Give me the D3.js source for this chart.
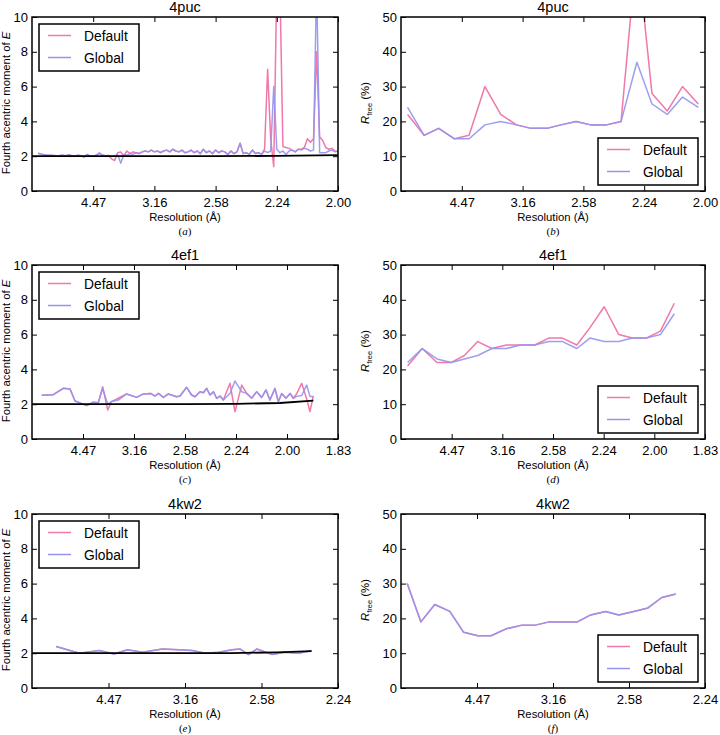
<!DOCTYPE html>
<html><head><meta charset="utf-8">
<script src="https://cdn.jsdelivr.net/npm/d3@7"></script>
<style>body{margin:0;background:#fff}</style>
</head><body><svg id="c" width="720" height="735"></svg>
<script>
// ---------- DATA (x is 1/d^2, in 1/Å^2) ----------
const seriesNames = ["Default", "Global"];

const tickValsA = [0.05, 0.1, 0.15, 0.2, 0.25];
const tickLabsA = ["4.47", "3.16", "2.58", "2.24", "2.00"];
const tickValsC = [0.05, 0.1, 0.15, 0.2, 0.25, 0.3];
const tickLabsC = ["4.47", "3.16", "2.58", "2.24", "2.00", "1.83"];
const tickValsE = [0.05, 0.1, 0.15, 0.2];
const tickLabsE = ["4.47", "3.16", "2.58", "2.24"];
const yTicksMoment = [0, 2, 4, 6, 8, 10];
const yTicksRfree = [0, 10, 20, 30, 40, 50];

// Panel (a) 4puc fourth moment
const sA = [0.005,0.0075,0.01,0.0125,0.015,0.0175,0.02,0.0225,0.025,0.0275,
0.03,0.0325,0.035,0.0375,0.04,0.0425,0.045,0.0475,0.05,0.0525,
0.055,0.0575,0.06,0.0625,0.065,0.0675,0.07,0.0725,0.075,0.0775,
0.08,0.0825,0.085,0.0875,0.09,0.0925,0.095,0.0975,0.1,0.1025,
0.105,0.1075,0.11,0.1125,0.115,0.1175,0.12,0.1225,0.125,0.1275,
0.13,0.1325,0.135,0.1375,0.14,0.1425,0.145,0.1475,0.15,0.1525,
0.155,0.1575,0.16,0.1625,0.165,0.1675,0.17,0.1725,0.175,0.1775,
0.18,0.1825,0.185,0.1875,0.19,0.1925,0.195,0.1975,0.2,0.2025,
0.205,0.2075,0.21,0.2125,0.215,0.2175,0.22,0.2225,0.225,0.2275,
0.23,0.2325,0.235,0.2375,0.24,0.2425,0.245,0.2475,0.25];
const globalA = [2.17,2.12,2.08,2.06,2.05,2.04,2.03,2.04,2.06,2.02,
2.08,2.03,2.0,2.05,2.03,1.95,2.1,2.0,2.0,2.05,
2.18,2.05,2.02,2.04,2.0,2.02,2.1,1.6,2.1,2.05,
2.15,2.1,2.2,2.15,2.25,2.3,2.25,2.35,2.25,2.3,
2.2,2.3,2.35,2.25,2.4,2.3,2.25,2.35,2.2,2.25,
2.35,2.2,2.3,2.15,2.4,2.2,2.3,2.15,2.35,2.2,
2.3,2.25,2.1,2.3,2.15,2.25,2.75,2.15,2.2,2.1,
2.35,2.15,2.2,2.1,2.3,2.2,2.3,6.0,2.4,2.2,
2.3,2.1,2.3,2.35,2.25,2.4,2.35,2.45,2.4,2.3,
2.35,12,2.2,2.2,2.2,2.3,2.35,2.25,2.3];
const defaultA = [2.17,2.12,2.08,2.06,2.05,2.04,2.03,2.04,2.06,2.02,
2.08,2.03,2.0,2.05,2.03,1.95,2.1,2.0,2.0,2.05,
2.18,2.05,2.02,2.04,1.85,1.75,2.2,2.25,2.0,2.3,
2.15,2.25,2.2,2.15,2.25,2.3,2.25,2.35,2.25,2.3,
2.2,2.3,2.35,2.25,2.4,2.3,2.25,2.35,2.2,2.25,
2.35,2.2,2.3,2.15,2.4,2.2,2.3,2.15,2.35,2.2,
2.3,2.25,2.1,2.3,2.15,2.25,2.75,2.15,2.2,2.1,
2.35,2.15,2.2,2.1,2.4,7.0,3.0,1.4,12,12,
2.55,2.5,2.45,2.35,2.25,2.4,2.4,2.5,3.0,2.8,
3.0,8.0,3.1,2.9,2.5,2.4,2.45,2.3,2.25];
const sRefA = [0, 0.1, 0.15, 0.2, 0.25];
const refA = [2.0, 2.0, 2.0, 2.02, 2.06];

// Panel (b) 4puc Rfree
const sB = [0.0054,0.019,0.031,0.044,0.056,0.069,0.082,0.095,0.107,0.12,
0.1315,0.144,0.156,0.169,0.181,0.194,0.2064,0.219,0.2315,0.2445];
const defaultB = [22,16,18,15,16,30,22,19,18,18,19,20,19,19,20,70,28,23,30,25];
const globalB = [24,16,18,15,15,19,20,19,18,18,19,20,19,19,20,37,25,22,27,24];

// Panel (c) 4ef1 fourth moment
const sC = [0.0095,0.0209,0.0307,0.0373,0.0422,0.0536,0.0601,0.065,0.0693,0.0742,
0.078,0.0846,0.0928,0.1026,0.1092,0.1163,0.1206,0.1239,0.1288,0.1337,
0.1418,0.1451,0.1516,0.1565,0.1598,0.1647,0.168,0.1712,0.1745,0.1778,
0.181,0.1843,0.1876,0.1941,0.199,0.2056,0.2105,0.2154,0.2203,0.2252,
0.2294,0.2333,0.2382,0.2415,0.2448,0.249,0.253,0.2562,0.2595,0.2644,
0.2693,0.2725,0.2758];
const globalC = [2.51,2.55,2.91,2.87,2.18,1.92,2.11,2.09,2.9,2.0,
2.15,2.24,2.59,2.39,2.59,2.62,2.47,2.62,2.39,2.59,
2.43,2.47,2.97,2.53,2.43,2.72,2.66,2.91,2.53,2.72,
2.34,2.47,2.24,2.62,3.33,2.72,2.62,2.34,2.72,2.39,
2.82,2.24,2.91,2.14,2.62,2.34,2.62,2.34,2.45,2.5,
3.1,2.45,2.43];
const defaultC = [2.51,2.55,2.91,2.87,2.18,1.92,2.11,2.09,3.0,1.67,
2.15,2.34,2.59,2.39,2.59,2.62,2.47,2.62,2.39,2.59,
2.43,2.47,2.97,2.53,2.43,2.72,2.66,2.91,2.53,2.72,
2.34,2.47,2.24,3.2,1.57,3.1,2.62,2.34,2.72,2.39,
2.82,2.24,2.91,2.14,2.62,2.34,2.62,2.34,2.6,3.2,
2.3,1.57,2.48];
const sRefC = [0, 0.15, 0.2, 0.243, 0.2758];
const refC = [2.0, 2.0, 2.02, 2.07, 2.2];

// Panel (d) 4ef1 Rfree
const sD = [0.0065,0.0209,0.0355,0.0496,0.0626,0.0757,0.0897,0.104,0.118,0.132,
0.1458,0.1594,0.1735,0.1865,0.2005,0.2149,0.2283,0.242,0.256,0.2697];
const defaultD = [21,26,22,22,24,28,26,27,27,27,29,29,27,32,38,30,29,29,31,39];
const globalD = [22,26,23,22,23,24,26,26,27,27,28,28,26,29,28,28,29,29,30,36];

// Panel (e) 4kw2 fourth moment
const sE = [0.0158,0.031,0.044,0.0537,0.0624,0.0722,0.0852,0.096,0.1047,0.1133,
0.122,0.1307,0.1361,0.1415,0.1469,0.1567,0.1653,0.174,0.1827];
const globalE = [2.39,2.0,2.16,1.95,2.2,2.05,2.24,2.2,2.16,2.0,2.05,2.2,2.24,1.92,2.24,1.93,2.05,2.0,2.16];
const defaultE = [2.39,2.0,2.16,1.95,2.2,2.05,2.24,2.2,2.16,2.0,2.05,2.2,2.24,1.92,2.24,1.93,2.05,2.0,2.16];
const sRefE = [0, 0.13, 0.16, 0.1827];
const refE = [2.0, 2.0, 2.05, 2.12];

// Panel (f) 4kw2 Rfree
const sF = [0.0041,0.0131,0.0222,0.0321,0.0412,0.0506,0.0593,0.0691,0.079,0.0877,
0.0975,0.1062,0.116,0.1248,0.1346,0.1433,0.1531,0.1625,0.1716,0.1808];
const globalF = [30,19,24,22,16,15,15,17,18,18,19,19,19,21,22,21,22,23,26,27];
const defaultF = [30,19,24,22,16,15,15,17,18,18,19,19,19,21,22,21,22,23,26,27];

// ---------- LAYOUT ----------
const PINK = "#f078aa", BLUE = "#9494f0";
const FONT = "'Liberation Sans', Arial, Helvetica, sans-serif";
const L = {x0: 32, x1: 338}, R = {x0: 401, x1: 705};
const rows = [{y0: 17, y1: 191}, {y0: 265, y1: 439}, {y0: 514, y1: 688}];

const panels = [
  {col: L, row: rows[0], title: "4puc", kind: "m", sMax: 0.25, tv: tickValsA, tl: tickLabsA, s: sA, d: defaultA, g: globalA, rs: sRefA, rv: refA, letter: "a"},
  {col: R, row: rows[0], title: "4puc", kind: "r", sMax: 0.25, tv: tickValsA, tl: tickLabsA, s: sB, d: defaultB, g: globalB, letter: "b"},
  {col: L, row: rows[1], title: "4ef1", kind: "m", sMax: 0.3, tv: tickValsC, tl: tickLabsC, s: sC, d: defaultC, g: globalC, rs: sRefC, rv: refC, letter: "c"},
  {col: R, row: rows[1], title: "4ef1", kind: "r", sMax: 0.3, tv: tickValsC, tl: tickLabsC, s: sD, d: defaultD, g: globalD, letter: "d"},
  {col: L, row: rows[2], title: "4kw2", kind: "m", sMax: 0.2, tv: tickValsE, tl: tickLabsE, s: sE, d: defaultE, g: globalE, rs: sRefE, rv: refE, letter: "e"},
  {col: R, row: rows[2], title: "4kw2", kind: "r", sMax: 0.2, tv: tickValsE, tl: tickLabsE, s: sF, d: defaultF, g: globalF, letter: "f"}
];

const svg = d3.select("#c");
svg.append("rect").attr("width", 720).attr("height", 735).attr("fill", "#fff");

panels.forEach((p, i) => {
  const x0 = p.col.x0, x1 = p.col.x1, y0 = p.row.y0, y1 = p.row.y1;
  const x = d3.scaleLinear().domain([0, p.sMax]).range([x0, x1]);
  const y = d3.scaleLinear().domain(p.kind === "m" ? [0, 10] : [0, 50]).range([y1, y0]);
  const yt = p.kind === "m" ? yTicksMoment : yTicksRfree;
  const g = svg.append("g");
  const clipId = "clip" + i;
  svg.append("clipPath").attr("id", clipId).append("rect")
    .attr("x", x0).attr("y", y0).attr("width", x1 - x0).attr("height", y1 - y0);

  const line = d3.line().x(d => x(d[0])).y(d => y(d[1]));
  const plot = g.append("g").attr("clip-path", `url(#${clipId})`);
  plot.append("path").datum(p.s.map((s, k) => [s, p.d[k]]))
    .attr("d", line).attr("fill", "none").attr("stroke", PINK).attr("stroke-width", 1.5)
    .attr("stroke-linejoin", "round");
  plot.append("path").datum(p.s.map((s, k) => [s, p.g[k]]))
    .attr("d", line).attr("fill", "none").attr("stroke", BLUE).attr("stroke-width", 1.5)
    .attr("stroke-opacity", 0.9).attr("stroke-linejoin", "round");
  if (p.rs) {
    plot.append("path").datum(p.rs.map((s, k) => [s, p.rv[k]]))
      .attr("d", line).attr("fill", "none").attr("stroke", "#000").attr("stroke-width", 1.8);
  }

  // axes
  const fmt = (v) => p.tl[p.tv.indexOf(v)];
  const ax = [
    g.append("g").attr("transform", `translate(0,${y1})`)
      .call(d3.axisBottom(x).tickValues(p.tv).tickFormat(fmt).tickSizeInner(-5).tickSizeOuter(0).tickPadding(6.5)),
    g.append("g").attr("transform", `translate(0,${y0})`)
      .call(d3.axisTop(x).tickValues(p.tv).tickFormat("").tickSizeInner(-5).tickSizeOuter(0)),
    g.append("g").attr("transform", `translate(${x0},0)`)
      .call(d3.axisLeft(y).tickValues(yt).tickFormat(d3.format("d")).tickSizeInner(-5).tickSizeOuter(0).tickPadding(4)),
    g.append("g").attr("transform", `translate(${x1},0)`)
      .call(d3.axisRight(y).tickValues(yt).tickFormat("").tickSizeInner(-5).tickSizeOuter(0))
  ];
  ax.forEach(a => {
    a.select(".domain").remove();
    a.selectAll(".tick line").attr("stroke", "#000").attr("stroke-width", 1);
    a.selectAll(".tick text").attr("font-family", FONT).attr("font-size", 13).attr("fill", "#000");
  });
  g.append("rect").attr("x", x0).attr("y", y0).attr("width", x1 - x0).attr("height", y1 - y0)
    .attr("fill", "none").attr("stroke", "#000").attr("stroke-width", 1.5);

  const cx = (x0 + x1) / 2;
  g.append("text").attr("x", cx).attr("y", y0 - 5.5).attr("text-anchor", "middle")
    .attr("font-family", FONT).attr("font-size", 14.5).text(p.title);
  g.append("text").attr("x", cx).attr("y", y1 + 30).attr("text-anchor", "middle")
    .attr("font-family", FONT).attr("font-size", 11.3).text("Resolution (Å)");
  const lt = g.append("text").attr("x", cx).attr("y", y1 + 43.5).attr("text-anchor", "middle")
    .attr("font-family", "'Liberation Serif', 'Times New Roman', serif").attr("font-size", 11);
  lt.append("tspan").text("(");
  lt.append("tspan").attr("font-style", "italic").text(p.letter);
  lt.append("tspan").text(")");

  // y label
  const cy = (y0 + y1) / 2 - 1;
  if (p.kind === "m") {
    const t = g.append("text").attr("transform", `translate(${x0 - 22.5},${cy}) rotate(-90)`)
      .attr("text-anchor", "middle").attr("font-family", FONT).attr("font-size", 11.3);
    t.append("tspan").text("Fourth acentric moment of ");
    t.append("tspan").attr("font-style", "italic").text("E");
  } else {
    const t = g.append("text").attr("transform", `translate(${x0 - 32.5},${cy}) rotate(-90)`)
      .attr("text-anchor", "middle").attr("font-family", FONT).attr("font-size", 11.3);
    t.append("tspan").attr("font-style", "italic").text("R");
    t.append("tspan").attr("font-size", 7.5).attr("dy", 3).text("free");
    t.append("tspan").attr("dy", -3).text(" (%)");
  }

  // legend
  let bx, by;
  if (p.kind === "m") { bx = x0 + 7; by = y0 + 7; }
  else { bx = x1 - 107; by = y1 - 53; }
  const lg = g.append("g");
  lg.append("rect").attr("x", bx).attr("y", by).attr("width", 100).attr("height", 47)
    .attr("fill", "#fff").attr("stroke", "#000").attr("stroke-width", 1.5);
  seriesNames.forEach((n, k) => {
    const ly = by + 11.5 + k * 22;
    lg.append("line").attr("x1", bx + 9).attr("x2", bx + 32).attr("y1", ly).attr("y2", ly)
      .attr("stroke", k === 0 ? PINK : BLUE).attr("stroke-width", 1.5);
    lg.append("text").attr("x", bx + 45).attr("y", ly + 5).attr("font-family", FONT)
      .attr("font-size", 13.8).text(n);
  });
});
</script></body></html>
